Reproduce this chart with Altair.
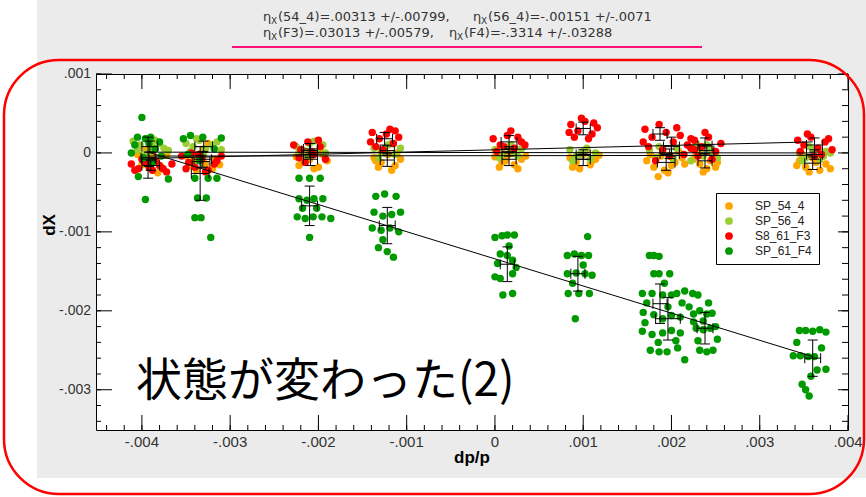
import altair as alt
import pandas as pd

# ---------------- data (values in units of 1e-5) ----------------
UNIT = 1e-5
SERIES = ["SP_54_4", "SP_56_4", "S8_61_F3", "SP_61_F4"]
COLORS = ["#ffa500", "#9acd32", "#ff0000", "#009a00"]

sp54_x = [[-405, -398, -390, -384, -378, -400, -388, -395, -382, -372],
          [-350, -342, -335, -328, -320, -345, -330, -318, -338, -325, -312],
          [-225, -218, -210, -200, -195, -215, -205, -190, -222, -198],
          [-137, -129, -121, -113, -107, -132, -117, -125, -111, -135],
          [0, 8, 15, 22, 30, 5, 18, 26, 12, 35],
          [85, 92, 100, 108, 114, 88, 104, 96, 110, 118],
          [172, 180, 188, 196, 204, 212, 185, 200, 208, 176, 192, 215],
          [225, 232, 240, 247, 252, 228, 236, 244, 250, 233],
          [345, 352, 360, 368, 375, 348, 356, 364, 372, 380, 342]]
sp54_y = [[-2, -8, -5, -12, -18, -15, 0, 4, -25, -3],
          [-4, -10, -2, -14, -20, -16, 5, -8, -22, 12, -15],
          [-5, -12, -8, -18, -2, 2, -20, -10, -16, 4],
          [-6, -12, -2, -16, -8, -18, -22, 3, 0, -10],
          [-5, -12, -2, -15, -8, -18, 3, -20, -10, -4],
          [-6, -12, -2, -15, -8, -18, 4, -20, -10, -3],
          [-10, -18, -4, -25, -12, -6, -30, -16, 2, -2, -22, -14],
          [-8, -14, -20, -4, -12, -2, -24, -10, -18, 4],
          [-10, -18, -6, -22, -14, -2, -24, -12, -4, -20, -16]]

sp56_x = [[-410, -402, -395, -388, -380, -405, -392, -375, -398, -385, -370],
          [-350, -342, -335, -328, -320, -345, -315, -330, -310, -338],
          [-225, -218, -210, -202, -195, -215, -205, -192, -222],
          [-137, -129, -121, -113, -107, -132, -117, -125],
          [0, 8, 15, 22, 30, 5, 18, 26],
          [85, 92, 100, 108, 114, 88, 104, 96],
          [175, 182, 190, 198, 206, 214, 222, 186, 202],
          [225, 232, 240, 247, 252, 228, 236, 244],
          [345, 352, 360, 368, 375, 348, 356, 372, 380]]
sp56_y = [[15, 10, 18, 8, 12, 4, 2, 6, -2, 16, 3],
          [12, 8, 16, 5, 10, 2, 14, -3, 4, 18],
          [8, 4, 12, 2, 10, -4, 15, 0, 0],
          [6, 2, 10, -2, 6, -6, 12, 0],
          [4, -2, 8, 0, 5, -6, 10, -4],
          [4, -4, 2, -8, 0, -10, 6, -2],
          [4, -6, 2, -4, 6, -2, -10, 8, -8],
          [6, -2, 10, 2, -6, 12, -4, 4],
          [0, -6, 4, -8, 2, -10, 8, -4, 0]]

f3_x = [[-412, -404, -396, -388, -380, -372, -400, -384, -392, -376, -366, -408],
        [-355, -347, -340, -332, -325, -318, -310, -350, -336, -328, -315, -344],
        [-228, -220, -212, -205, -198, -192, -222, -208, -200, -215],
        [-139, -131, -123, -115, -109, -135, -119, -127, -113, -141],
        [-2, 6, 14, 22, 30, 2, 18, 26, 10, 34],
        [86, 94, 102, 110, 116, 90, 106, 98, 112, 84],
        [170, 178, 186, 194, 202, 210, 218, 174, 190, 206, 214, 182, 198, 222, 168, 226],
        [226, 234, 242, 250, 256, 230, 238, 246, 222],
        [343, 350, 358, 366, 374, 382, 346, 362, 378, 354, 370]]
f3_y = [[-14, -20, -12, -22, -16, -24, -8, -10, -18, -20, -14, -22],
        [-4, -12, -18, -8, -22, -14, -4, -20, -2, -24, -10, 0],
        [10, 4, 14, -2, 8, -8, -6, 2, 16, -12],
        [26, 18, 24, 12, 20, 8, 30, 4, 28, 14],
        [18, 10, 22, 6, 14, 2, 28, 20, 8, 10],
        [36, 28, 40, 24, 32, 20, 18, 44, 38, 26],
        [30, 20, 36, 26, 14, 22, 10, 8, 4, 32, -2, -10, -4, 18, 14, 4],
        [16, 8, 20, 2, 12, -4, 26, -8, 6],
        [16, 10, 20, 6, 14, 4, 2, -4, 18, 24, -2]]

f4_x = [[-400, -405, -396, -390, -408, -385, -398, -404, -396, -370, -378, -412, -388, -392, -380],
        [-353, -345, -331, -310, -340, -325, -315, -337, -327, -340, -333, -322, -348, -318, -335],
        [-222, -210, -198, -222, -213, -205, -195, -224, -215, -206, -196, -186, -210, -218, -202],
        [-135, -125, -112, -137, -127, -117, -107, -139, -129, -119, -109, -132, -122, -115, -127],
        [0, 8, 14, 22, 6, 14, 20, 0, 6, 20, 9, 20, 3, 16, 24],
        [105, 82, 90, 98, 106, 82, 92, 102, 110, 83, 95, 107, 91, 88, 100],
        [175, 180, 186, 180, 186, 198, 167, 178, 190, 200, 206, 215, 224, 230, 168, 180, 190, 200, 210,
         167, 178, 190, 200, 210, 176, 186, 195, 215, 207, 172, 196, 220, 185, 205, 225, 170, 212, 192],
        [225, 232, 240, 246, 228, 236, 244, 250, 232, 240, 247, 242, 230, 252, 236],
        [345, 352, 360, 368, 375, 338, 346, 355, 362, 365, 375, 358, 348, 352, 356, 370, 342]]
f4_y = [[45, 20, 18, 20, 10, 5, -6, -30, -59, -33, -4, 0, -12, 12, 14],
        [18, 22, 20, 19, -32, -32, -32, -57, -57, -82, -82, -107, -2, 5, -10],
        [-32, -32, -32, -58, -60, -58, -58, -81, -83, -81, -81, -83, -107, -70, -70],
        [-55, -52, -55, -75, -80, -78, -75, -95, -98, -95, -100, -120, -125, -132, -110],
        [-107, -105, -104, -104, -128, -130, -136, -157, -159, -153, -180, -178, -140, -118, -145],
        [-106, -130, -128, -130, -130, -153, -152, -153, -155, -178, -178, -178, -210, -165, -142],
        [-130, -130, -131, -153, -153, -153, -178, -178, -180, -180, -178, -175, -178, -180, -202, -205, -210,
         -206, -208, -226, -230, -228, -225, -228, -250, -252, -252, -262, -247, -190, -195, -195, -240, -238,
         -214, -215, -190, -165],
        [-204, -200, -204, -203, -222, -224, -222, -220, -250, -252, -250, -190, -238, -236, -213],
        [-225, -225, -226, -224, -227, -257, -257, -258, -258, -275, -274, -283, -293, -300, -308, -247, -240]]

# error bars: centre x, x error, centre y, y error (units 1e-5)
err_cx = {"SP_54_4": [-392, -331, -209, -122, 16, 100, 194, 238, 360],
          "SP_56_4": [-391, -330, -209, -122, 16, 100, 198, 240, 362],
          "S8_61_F3": [-390, -333, -210, -125, 16, 100, 187, 200, 238, 362],
          "SP_61_F4": [-393, -334, -210, -122, 14, 94, 187, 196, 238, 360]}
err_xe = {"SP_54_4": [8, 10, 8, 8, 8, 8, 10, 8, 9],
          "SP_56_4": [9, 10, 8, 8, 8, 8, 11, 8, 9],
          "S8_61_F3": [10, 10, 9, 9, 9, 8, 8, 9, 8, 9],
          "SP_61_F4": [8, 10, 9, 9, 8, 8, 8, 14, 9, 9]}
err_cy = {"SP_54_4": [-8, -8, -8, -9, -8, -8, -12, -10, -13],
          "SP_56_4": [8, 8, 5, 3, 2, -2, -1, 3, -2],
          "S8_61_F3": [-16, -11, 3, 18, 14, 31, 24, 8, 9, 10],
          "SP_61_F4": [-6, -26, -67, -92, -141, -153, -191, -210, -222, -260]}
err_ye = {"SP_54_4": [9, 10, 8, 8, 8, 8, 10, 9, 8],
          "SP_56_4": [7, 7, 7, 6, 6, 6, 6, 6, 6],
          "S8_61_F3": [6, 8, 9, 8, 8, 8, 8, 12, 10, 9],
          "SP_61_F4": [26, 34, 25, 23, 22, 22, 25, 27, 20, 23]}

# fitted lines: end points
fit_x = [-393, 360]
fit_y = {"SP_54_4": [-4, -3], "SP_56_4": [1, 0], "S8_61_F3": [-7, 14], "SP_61_F4": [1, -258]}

# axis ticks and tick labels
x_major = [-0.004, -0.003, -0.002, -0.001, 0.0, 0.001, 0.002, 0.003, 0.004]
x_labels = ["-.004", "-.003", "-.002", "-.001", "0", ".001", ".002", ".003", ".004"]
y_major = [0.001, 0.0, -0.001, -0.002, -0.003]
y_labels = [".001", "0", "-.001", "-.002", "-.003"]
x_minor = [round(-0.0044 + 0.0002 * i, 4) for i in range(43)]
y_minor = [round(-0.0034 + 0.0002 * i, 4) for i in range(23)]

title_lines = [
    [("(54_4)=.00313 +/-.00799,", 263), ("(56_4)=-.00151 +/-.0071", 473)],
    [("(F3)=.03013 +/-.00579,", 263), ("(F4)=-.3314 +/-.03288", 449)],
]
watermark = "状態が変わった(2)"

# ---------------- tables ----------------
point_src = {"SP_54_4": (sp54_x, sp54_y), "SP_56_4": (sp56_x, sp56_y),
             "S8_61_F3": (f3_x, f3_y), "SP_61_F4": (f4_x, f4_y)}
rows = []
for s in SERIES:
    xs_, ys_ = point_src[s]
    for cxl, cyl in zip(xs_, ys_):
        for a, b in zip(cxl, cyl):
            rows.append({"series": s, "dpp": a * UNIT, "dX": b * UNIT})
points = pd.DataFrame(rows)

erows = []
for s in SERIES:
    for cx, xe, cy, ye in zip(err_cx[s], err_xe[s], err_cy[s], err_ye[s]):
        erows.append({"series": s, "cx": cx * UNIT, "cy": cy * UNIT,
                      "xlo": (cx - xe) * UNIT, "xhi": (cx + xe) * UNIT,
                      "ylo": (cy - ye) * UNIT, "yhi": (cy + ye) * UNIT})
errs = pd.DataFrame(erows)

frows = []
for s in SERIES:
    for a, b in zip(fit_x, fit_y[s]):
        frows.append({"series": s, "dpp": a * UNIT, "dX": b * UNIT})
fits = pd.DataFrame(frows)

# ---------------- geometry ----------------
W, H = 752, 356
L, T = 96, 74
xsc = alt.Scale(domain=[-0.00452, 0.004], nice=False, zero=False)
ysc = alt.Scale(domain=[-0.00351, 0.001], nice=False, zero=False)

one = pd.DataFrame({"k": [0]})


def deco():
    return alt.Chart(one)


layers = []
# white margins outside the grey panel
layers.append(deco().mark_rect(color="white").encode(
    x=alt.value(-L), x2=alt.value(37 - L), y=alt.value(-T), y2=alt.value(497 - T)))
layers.append(deco().mark_rect(color="white").encode(
    x=alt.value(-L), x2=alt.value(866 - L), y=alt.value(478 - T), y2=alt.value(497 - T)))
# pink underline of the title
layers.append(deco().mark_rule(color="#ff1077", strokeWidth=2).encode(
    x=alt.value(232 - L), x2=alt.value(702 - L), y=alt.value(47 - T)))
# title texts with subscript X
for li, line in enumerate(title_lines):
    base = 21 if li == 0 else 37
    for txt, x0 in line:
        layers.append(deco().mark_text(align="left", baseline="alphabetic", font="DejaVu Sans",
                                       fontSize=13, color="#333").encode(
            x=alt.value(x0 - L), y=alt.value(base - T), text=alt.value("\u03b7")))
        layers.append(deco().mark_text(align="left", baseline="alphabetic", font="DejaVu Sans",
                                       fontSize=9, color="#333").encode(
            x=alt.value(x0 + 8 - L), y=alt.value(base + 3 - T), text=alt.value("X")))
        layers.append(deco().mark_text(align="left", baseline="alphabetic", font="DejaVu Sans",
                                       fontSize=13, color="#333").encode(
            x=alt.value(x0 + 15 - L), y=alt.value(base - T), text=alt.value(txt)))

# tick labels and axis titles (as text marks placed through the scales)
xl = pd.DataFrame({"v": x_major, "lab": x_labels})
yl = pd.DataFrame({"v": y_major, "lab": y_labels})
layers.append(alt.Chart(xl).mark_text(align="center", baseline="top", font="Liberation Sans",
                                      fontSize=15, color="#333").encode(
    x=alt.X("v:Q", scale=xsc, axis=None), y=alt.value(H + 5), text="lab:N"))
layers.append(alt.Chart(yl).mark_text(align="right", baseline="middle", font="Liberation Sans",
                                      fontSize=14, color="#333").encode(
    y=alt.Y("v:Q", scale=ysc, axis=None), x=alt.value(-5), text="lab:N"))
layers.append(deco().mark_text(align="center", baseline="alphabetic", font="Liberation Sans",
                               fontWeight="bold", fontSize=17, color="black").encode(
    x=alt.value(W / 2), y=alt.value(H + 33), text=alt.value("dp/p")))
layers.append(deco().mark_text(align="center", baseline="alphabetic", font="Liberation Sans",
                               fontWeight="bold", fontSize=17, color="black", angle=270).encode(
    x=alt.value(-41), y=alt.value(151), text=alt.value("dX")))

# points (carry the legend)
layers.append(alt.Chart(points).mark_circle(size=55, opacity=1).encode(
    x=alt.X("dpp:Q", scale=xsc, axis=None),
    y=alt.Y("dX:Q", scale=ysc, axis=None),
    color=alt.Color("series:N", scale=alt.Scale(domain=SERIES, range=COLORS),
                    legend=alt.Legend(orient="none", legendX=620, legendY=119, title=None,
                                      fillColor="white", strokeColor="black", padding=7,
                                      symbolType="circle", symbolSize=60, symbolStrokeWidth=0,
                                      labelFont="Liberation Sans", labelFontSize=12,
                                      labelColor="#222", rowPadding=3, labelOffset=20))))


# inward ticks on all four sides
def xticks(vals, y0, y1):
    return alt.Chart(pd.DataFrame({"v": vals})).mark_rule(color="black", strokeWidth=1).encode(
        x=alt.X("v:Q", scale=xsc, axis=None), y=alt.value(y0), y2=alt.value(y1))


def yticks(vals, x0, x1):
    return alt.Chart(pd.DataFrame({"v": vals})).mark_rule(color="black", strokeWidth=1).encode(
        y=alt.Y("v:Q", scale=ysc, axis=None), x=alt.value(x0), x2=alt.value(x1))


layers += [xticks(x_minor, H, H - 5), xticks(x_major, H, H - 15),
           xticks(x_minor, 0, 5), xticks(x_major, 0, 15),
           yticks(y_minor, 0, 5), yticks(y_major, 0, 16),
           yticks(y_minor, W, W - 6), yticks(y_major, W, W - 10)]

# fitted lines
layers.append(alt.Chart(fits).mark_line(color="black", strokeWidth=1).encode(
    x=alt.X("dpp:Q", scale=xsc, axis=None), y=alt.Y("dX:Q", scale=ysc, axis=None),
    detail="series:N"))

# error bars
eb = alt.Chart(errs)
layers.append(eb.mark_rule(color="black", strokeWidth=1).encode(
    x=alt.X("cx:Q", scale=xsc, axis=None), y=alt.Y("ylo:Q", scale=ysc, axis=None), y2="yhi:Q"))
layers.append(eb.mark_rule(color="black", strokeWidth=1).encode(
    x=alt.X("xlo:Q", scale=xsc, axis=None), x2="xhi:Q", y=alt.Y("cy:Q", scale=ysc, axis=None)))
for yf in ["ylo", "yhi"]:
    layers.append(eb.mark_tick(orient="horizontal", size=10, thickness=1, color="black", opacity=1).encode(
        x=alt.X("cx:Q", scale=xsc, axis=None), y=alt.Y(f"{yf}:Q", scale=ysc, axis=None)))
for xf in ["xlo", "xhi"]:
    layers.append(eb.mark_tick(orient="vertical", size=10, thickness=1, color="black", opacity=1).encode(
        x=alt.X(f"{xf}:Q", scale=xsc, axis=None), y=alt.Y("cy:Q", scale=ysc, axis=None)))

# watermark text
layers.append(deco().mark_text(align="left", baseline="alphabetic", font="Noto Sans CJK JP",
                               fontSize=46, color="black").encode(
    x=alt.value(136 - L), y=alt.value(396 - T), text=alt.value(watermark)))

# red rounded frame
layers.append(deco().mark_rect(fillOpacity=0, stroke="#ff0000", strokeWidth=2.5, cornerRadius=55).encode(
    x=alt.value(4 - L), x2=alt.value(864 - L), y=alt.value(60 - T), y2=alt.value(494 - T)))

chart = alt.layer(*layers).properties(
    width=W, height=H,
    autosize=alt.AutoSizeParams(type="none"),
    padding={"left": L, "top": T, "right": 866 - L - W, "bottom": 497 - T - H},
    background="#ebebeb",
).configure_view(fill="white", stroke="black", strokeWidth=1)

chart.save("out.html", embed_options={"renderer": "svg", "actions": False})
